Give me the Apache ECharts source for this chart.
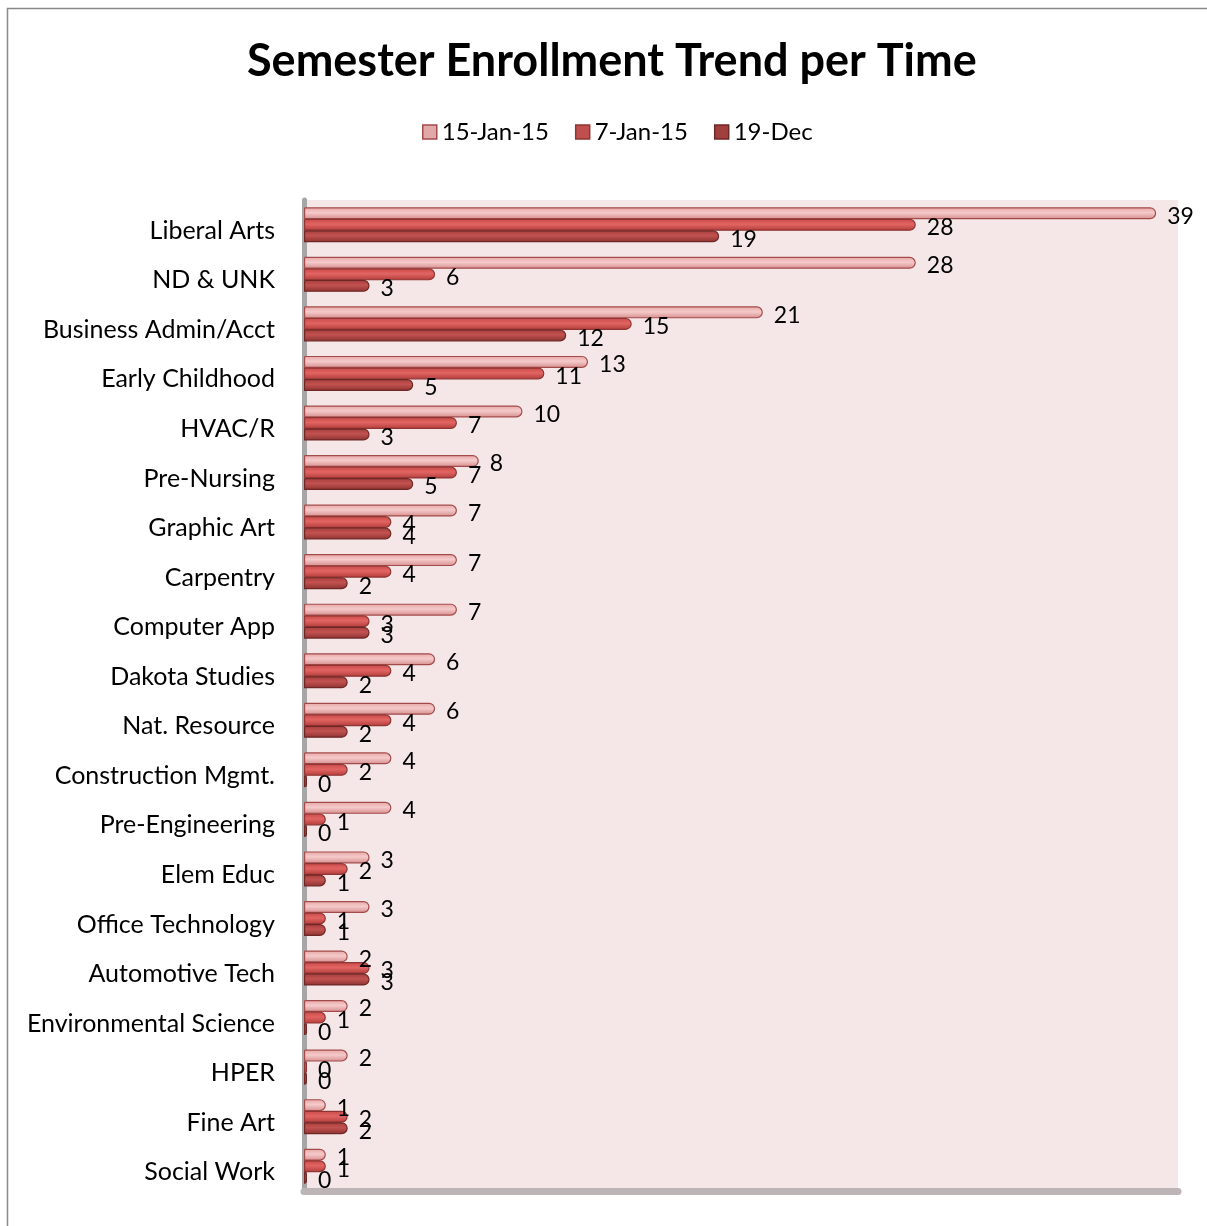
<!DOCTYPE html>
<html>
<head>
<meta charset="utf-8">
<script src="https://cdn.jsdelivr.net/npm/echarts@6/dist/echarts.min.js"></script>
<style>html,body{margin:0;padding:0;background:#fff}#c{width:1207px;height:1226px}</style>
</head>
<body>
<div id="c"></div>
<script>
const categories = ["Liberal Arts","ND & UNK","Business Admin/Acct","Early Childhood","HVAC/R","Pre-Nursing","Graphic Art","Carpentry","Computer App","Dakota Studies","Nat. Resource","Construction Mgmt.","Pre-Engineering","Elem Educ","Office Technology","Automotive Tech","Environmental Science","HPER","Fine Art","Social Work"];
const seriesNames = ["15-Jan-15","7-Jan-15","19-Dec"];
const jan15 = [39,28,21,13,10,8,7,7,7,6,6,4,4,3,3,2,2,2,1,1];
const jan7  = [28,6,15,11,7,7,4,4,3,4,4,2,1,2,1,3,1,0,2,1];
const dec19 = [19,3,12,5,3,5,4,2,3,2,2,0,0,1,1,3,0,0,2,0];

const FONT = 'Lato';
function grad(c1,c2,c3){
  return new echarts.graphic.LinearGradient(0,0,0,1,[
    {offset:0,color:c1},{offset:0.45,color:c2},{offset:1,color:c3}]);
}
const styles = [
  {fill:grad('#e7a5a5','#f5caca','#d68c8c'), border:'#a34b4b', legend:'#e0a8a8'},
  {fill:grad('#c84846','#e26563','#b03c3a'), border:'#8f3533', legend:'#c0504d'},
  {fill:grad('#a53e3c','#c25250','#8a3230'), border:'#6f2726', legend:'#a0403e'}
];
const dataSets = [jan15, jan7, dec19];

const chart = echarts.init(document.getElementById('c'));
chart.setOption({
  animation:false,
  backgroundColor:'#fff',
  title:{text:'Semester Enrollment Trend per Time',left:242,top:34,
    textStyle:{fontFamily:FONT,fontWeight:'bold',fontSize:45,color:'#000'}},
  legend:{top:115,left:417,icon:'rect',itemWidth:14,itemHeight:14,itemGap:26,
    textStyle:{fontFamily:FONT,fontSize:24,color:'#000'},
    data:seriesNames.map((n,i)=>({name:n,itemStyle:{color:styles[i].legend,borderColor:styles[i].border,borderWidth:1.5}}))},
  graphic:[{type:'rect',shape:{x:7.5,y:8.5,width:1300,height:1300},style:{fill:'none',stroke:'#888',lineWidth:1.5},silent:true}],
  grid:{left:304,right:29,top:200,bottom:35,show:true,backgroundColor:'#f5e7e7',borderWidth:0},
  xAxis:{type:'value',min:0,max:40,show:true,
    axisLine:{show:true,onZero:false,lineStyle:{color:'#bdb5b5',width:7}},
    axisTick:{show:false},axisLabel:{show:false},splitLine:{show:false}},
  yAxis:{type:'category',inverse:true,data:categories,offset:3,
    axisLine:{show:true,lineStyle:{color:'#a6a6a6',width:5}},
    axisTick:{show:false},
    axisLabel:{fontFamily:FONT,fontSize:25,color:'#000',margin:26,verticalAlign:'top',lineHeight:12}},
  series:dataSets.map((d,i)=>({
    name:seriesNames[i],type:'bar',data:d,barWidth:12,barGap:'-4%',barMinHeight:3,
    itemStyle:{color:styles[i].fill,borderColor:styles[i].border,borderWidth:1.2,borderRadius:[0,6,6,0]},
    label:{show:true,position:'right',distance:11,offset:[0,3],fontFamily:FONT,fontSize:23,color:'#000'}
  }))
});
</script>
</body>
</html>
